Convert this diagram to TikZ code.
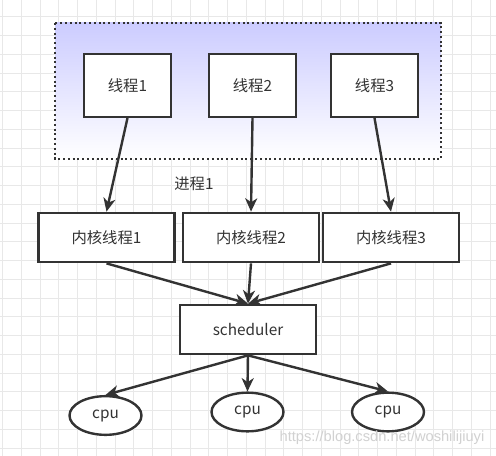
\documentclass[tikz,border=0pt]{standalone}
\usepackage{fontspec}
\setmainfont{Noto Sans CJK SC}
\newfontfamily\markfont{Liberation Sans}
\usetikzlibrary{arrows.meta,shapes.geometric}
\definecolor{inkgray}{RGB}{51,51,51}
\definecolor{gridgray}{RGB}{232,232,232}
\definecolor{lavender}{RGB}{204,204,255}
\tikzset{
  threadbox/.style={draw=inkgray,line width=1.8pt,fill=white,minimum width=65pt,minimum height=47pt,inner sep=0pt,font=\fontsize{11.5}{14}\selectfont,text=inkgray},
  kernelbox/.style={threadbox,minimum width=102pt,minimum height=37pt},
  cpunode/.style={draw=inkgray,line width=1.8pt,ellipse,fill=white,minimum width=54pt,minimum height=29pt,inner sep=0pt,font=\fontsize{11.5}{14}\selectfont,text=inkgray},
  flow/.style={draw=inkgray,line width=1.8pt,-{Stealth[length=10pt,width=9pt,inset=3pt]}}
}
\begin{document}
\begin{tikzpicture}[x=0.75pt,y=0.75pt,yscale=-1,xscale=1]
\useasboundingbox (0,0) rectangle (496,456);
\fill[white] (0,0) rectangle (496,456);

%Background grid
\foreach \gx in {0,...,26} {
  \draw[gridgray,line width=0.7pt] (2.7+18.75*\gx,0) -- (2.7+18.75*\gx,456);
}
\foreach \gy in {0,...,24} {
  \draw[gridgray,line width=0.7pt] (0,-2+18.75*\gy) -- (496,-2+18.75*\gy);
}

%Shape: Rectangle (process area)
\shade[top color=lavender,bottom color=white] (55,23) rectangle (441,159);
\draw[inkgray,line width=1.8pt,dash pattern=on 1.5pt off 2.1pt] (55,23) rectangle (441,159);

% Text Node
\node[text=inkgray,font=\fontsize{11.5}{14}\selectfont] (proc) at (194,184) {进程1};

% Threads
\node[threadbox] (t1) at (127.5,85.5) {线程1};
\node[threadbox] (t2) at (252.5,85.5) {线程2};
\node[threadbox] (t3) at (374.5,85.5) {线程3};

% Kernel threads
\node[kernelbox] (k1) at (106.5,237.5) {内核线程1};
\node[kernelbox] (k2) at (251,237.5) {内核线程2};
\node[kernelbox] (k3) at (391,237.5) {内核线程3};

% Scheduler
\node[kernelbox] (sched) at (248,329.5) {scheduler};

% CPUs
\node[cpunode] (c1) at (105.5,415.5) {cpu};
\node[cpunode] (c2) at (247.5,412) {cpu};
\node[cpunode] (c3) at (388,412) {cpu};

%Straight Lines
\draw[flow] (t1.south) -- (k1.north);
\draw[flow] (t2.south) -- (k2.north);
\draw[flow] (t3.south) -- (k3.north);

\draw[flow] (k1.south) -- (sched.north);
\draw[flow] (k2.south) -- (sched.north);
\draw[flow] (k3.south) -- (sched.north);

\draw[flow] (sched.south) -- (c1.north);
\draw[flow] (sched.south) -- (c2.north);
\draw[flow] (sched.south) -- (c3.north);

% Text Node (watermark)
\node[anchor=east,text=black!18,font=\markfont\fontsize{11}{13}\selectfont] (mark) at (489,438) {https://blog.csdn.net/woshilijiuyi};

\end{tikzpicture}
\end{document}
